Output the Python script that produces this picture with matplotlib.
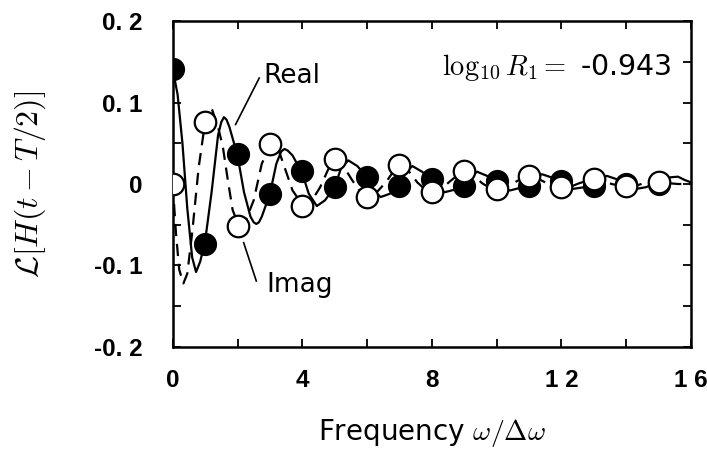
import matplotlib
matplotlib.use("Agg")
import matplotlib.pyplot as plt

plt.rcParams['mathtext.fontset'] = 'cm'

# ---- data ----
freq_pts = list(range(16))
real_pts = [0.141, -0.074, 0.037, -0.012, 0.016, -0.004, 0.008, -0.002,
            0.006, -0.002, 0.004, -0.002, 0.004, -0.002, 0.0, 0.0]
imag_pts = [0.0, 0.076, -0.051, 0.049, -0.027, 0.031, -0.016, 0.023,
            -0.010, 0.016, -0.006, 0.010, -0.004, 0.006, -0.002, 0.002]

real_curve_x = [0, 0.15, 0.3, 0.45, 0.6, 0.72, 0.85, 1.0, 1.2, 1.4, 1.5, 1.58, 1.66, 1.75,
                2.0, 2.2, 2.4, 2.5, 2.58, 2.66, 2.75, 3.0, 3.2, 3.35, 3.45, 3.55, 3.7, 4.0, 4.2, 4.45,
                4.7, 5.0, 5.2, 5.42, 5.7, 6.0, 6.2, 6.42, 6.7, 7.0, 7.2, 7.4,
                7.7, 8.0, 8.2, 8.4, 8.7, 9.0, 9.2, 9.4, 9.7, 10.0, 10.2, 10.4,
                10.7, 11.0, 11.2, 11.4, 11.7, 12.0, 12.2, 12.35, 12.7, 13.0,
                13.2, 13.4, 13.7, 14.0, 14.3, 14.6, 15.0, 15.3, 15.6, 15.8, 16.0]
real_curve_y = [0.141, 0.11, 0.05, -0.03, -0.09, -0.108, -0.095, -0.07, -0.01,
                0.06, 0.076, 0.082, 0.079, 0.07, 0.035, -0.01, -0.04, -0.047, -0.049, -0.047, -0.04, -0.012,
                0.025, 0.040, 0.043, 0.041, 0.035, 0.013, -0.012, -0.027, -0.02, -0.004, 0.02,
                0.029, 0.022, 0.008, -0.008, -0.016, -0.012, -0.002, 0.015,
                0.022, 0.015, 0.005, -0.005, -0.010, -0.007, -0.001, 0.010,
                0.015, 0.010, 0.003, -0.004, -0.008, -0.005, 0.002, 0.009,
                0.012, 0.008, 0.002, -0.003, -0.006, -0.004, -0.001, 0.006,
                0.010, 0.006, 0.0, -0.006, -0.004, 0.002, 0.008, 0.009, 0.005, 0.002]

imag_curve_x = [0, 0.1, 0.2, 0.33, 0.45, 0.6, 0.8, 1.0, 1.2, 1.4, 1.55, 1.7,
                1.85, 2.05, 2.25, 2.5, 2.75, 3.05, 3.3, 3.5, 3.7, 4.05, 4.3,
                4.55, 4.8, 5.05, 5.3, 5.55, 5.8, 6.05, 6.3, 6.6, 6.8, 7.05,
                7.3, 7.55, 7.8, 8.05, 8.3, 8.55, 8.8, 9.05, 9.3, 9.55, 9.8,
                10.05, 10.3, 10.55, 10.8, 11.05, 11.3, 11.55, 11.8, 12.05,
                12.3, 12.55, 12.8, 13.05, 13.3, 13.55, 13.8, 14.05, 14.3,
                14.55, 14.8, 15.05, 15.3, 15.6, 16.0]
imag_curve_y = [0.0, -0.06, -0.105, -0.122, -0.11, -0.06, 0.02, 0.076, 0.093,
                0.07, 0.045, 0.005, -0.032, -0.052, -0.045, -0.02, 0.025, 0.05,
                0.038, 0.015, -0.008, -0.028, -0.02, -0.004, 0.018, 0.031, 0.02,
                0.004, -0.01, -0.017, -0.01, 0.003, 0.015, 0.023, 0.015, 0.002,
                -0.007, -0.011, -0.006, 0.003, 0.011, 0.016, 0.010, 0.001,
                -0.005, -0.007, -0.004, 0.002, 0.007, 0.010, 0.006, 0.001,
                -0.003, -0.005, -0.003, 0.001, 0.004, 0.006, 0.004, 0.0, -0.002,
                -0.003, -0.002, 0.001, 0.002, 0.002, 0.001, 0.0, 0.0]

xticks = [0, 4, 8, 12, 16]
xtick_labels = ["0", "4", "8", "1 2", "1 6"]
yticks = [-0.2, -0.1, 0, 0.1, 0.2]
ytick_labels = ["-0. 2", "-0. 1", "0", "0. 1", "0. 2"]

# ---- figure ----
fig = plt.figure(figsize=(7.07, 4.54), dpi=100)
ax = fig.add_axes([0.2443, 0.2357, 0.9774 - 0.2443, 0.9537 - 0.2357])

ax.plot(real_curve_x, real_curve_y, color='black', lw=1.6, zorder=2,
        solid_joinstyle='round')
ax.plot(imag_curve_x, imag_curve_y, color='black', lw=1.6,
        dashes=(5.5, 3.5), zorder=2)
ax.plot(freq_pts, real_pts, 'o', ms=15.5, mfc='black', mec='black',
        mew=1.2, zorder=3)
ax.plot(freq_pts, imag_pts, 'o', ms=15.5, mfc='white', mec='black',
        mew=1.6, zorder=4)

ax.set_xlim(0, 16)
ax.set_ylim(-0.2, 0.2)
ax.set_xticks(xticks)
ax.set_xticklabels(xtick_labels)
ax.set_xticks([2, 6, 10, 14], minor=True)
ax.set_yticks(yticks)
ax.set_yticklabels(ytick_labels)
ax.set_yticks([-0.15, -0.05, 0.05, 0.15], minor=True)

for lab in ax.get_xticklabels() + ax.get_yticklabels():
    lab.set_fontfamily('Liberation Sans')
    lab.set_fontweight('bold')
    lab.set_fontsize(17.5)

ax.tick_params(which='both', direction='in', top=True, right=True,
               length=6, width=1.3)
ax.tick_params(axis='x', pad=16)
ax.tick_params(axis='y', pad=22)
for s in ax.spines.values():
    s.set_linewidth(1.8)

ax.set_xlabel(r"Frequency $\omega/\Delta\omega$", fontsize=20,
              family='DejaVu Sans', labelpad=18)
ax.set_ylabel(r"$\mathcal{L}[H(t-T/2)]$", fontsize=23, labelpad=33)

ax.text(15.4, 0.143, r"$\log_{10}R_1 =$ -0.943", fontsize=20.5,
        ha='right', va='center', family='DejaVu Sans')

ax.text(2.8, 0.133, "Real", fontsize=19, ha='left', va='center',
        family='DejaVu Sans')
ax.plot([2.67, 1.94], [0.130, 0.073], color='black', lw=1.2)
ax.text(2.9, -0.124, "Imag", fontsize=19, ha='left', va='center',
        family='DejaVu Sans')
ax.plot([2.19, 2.58], [-0.072, -0.119], color='black', lw=1.2)

fig.savefig("out.png", dpi=100)
